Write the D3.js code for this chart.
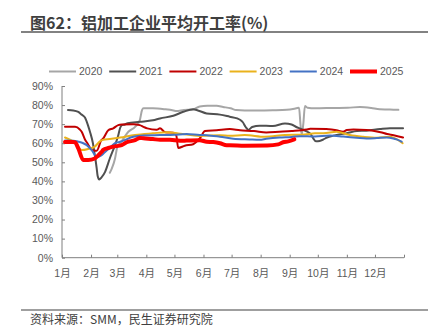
<!DOCTYPE html>
<html><head><meta charset="utf-8">
<script src="https://cdn.jsdelivr.net/npm/d3@7"></script>
<style>
body{margin:0;background:#fff;}
svg{display:block;font-family:"Liberation Sans","Noto Sans CJK SC",sans-serif;}
</style></head>
<body>
<svg id="c" width="437" height="334"></svg>
<script>
const title = "图62：铝加工企业平均开工率(%)";
const source = "资料来源：SMM，民生证券研究院";
const monthLabels = ["1月","2月","3月","4月","5月","6月","7月","8月","9月","10月","11月","12月"];
const monthStarts = [0,31,59,90,120,151,181,212,243,273,304,334,365];
const yTicks = [0,10,20,30,40,50,60,70,80,90];
const seriesNames = ["2020","2021","2022","2023","2024","2025"];
const seriesColors = ["#a6a6a6","#505050","#c00000","#eab21c","#4472c4","#ff0000"];
const seriesWidths = [2,2,2,2,2,4];

// [day of year, %]
const s2020 = [[51,44.5],[53,46.5],[56.6,52],[59,58],[63.7,61],[70.8,66],[78,68.6],[83,72],[85.4,77.4],[87,78.3],[97,78.3],[110,77.8],[119,77.2],[122,76.9],[130,77.4],[140,77.7],[147,79.3],[155,79.6],[165,79.6],[172,79],[180,78.3],[186,77.4],[195,77.2],[210,77.2],[225,77.3],[240,77.5],[250,78.3],[253,78.6],[254.5,70],[255.8,64.5],[257.5,70],[259.3,79.5],[262,78.6],[270,78.3],[290,78.5],[305,78.6],[318,79],[330,78.5],[339,77.8],[350,77.7],[359,77.5]];
const s2021 = [[6.4,77.4],[12,77.2],[17.4,76.4],[21,75],[24.5,73.5],[28,69],[30,65.8],[33,60],[35,53.8],[37,47],[38,43],[39.8,41],[42,42],[46,45],[51,52],[56.6,59],[60,64],[62,68],[64,69.5],[67,69.8],[70,70.5],[83,71.2],[97,72],[104.6,73],[118.8,74.4],[129.5,76.5],[140,77.8],[145,77.2],[154.4,75.6],[168.6,75],[179,73.9],[187,73],[190,72.3],[193,71],[196,68.5],[199,67],[203,68.5],[211,69.2],[225,69],[238,70.3],[245,69.8],[250,68.5],[255,67.5],[261,66.2],[265,65],[268,62.7],[271,61],[275,61.2],[279,62],[282.8,63],[289.5,64],[300,65],[303.8,65.3],[314.8,66.4],[325,66.6],[339.4,67.4],[350,67.8],[364,67.8]];
const s2022 = [[3.2,68.6],[14,68.6],[19,67.2],[21,66],[24.5,62],[27.7,59.5],[30,57.5],[33,56.2],[37,56],[42,61.6],[44,62.5],[49.4,66.8],[54.7,67.8],[60,69.5],[64,69.8],[76,70],[83,69.5],[87,68.6],[91,67.8],[101,67.1],[104.6,67.8],[110,65.8],[118.8,65.5],[122,64],[124,57.5],[131,58.7],[140,59.5],[147,62.5],[152.6,66.4],[165,66.8],[179,67.4],[190,66.8],[205,66.4],[218,65.6],[232,66],[245,66.4],[261,67.2],[265,67.6],[282,67.4],[293,66.8],[300,66],[304,66.9],[311,67.2],[325,67],[332,66.6],[340,65.8],[347,64.8],[354,64.2],[364,63]];
const s2023 = [[3.2,63],[12,61],[14,60.5],[21,56.4],[28,57],[35,58.2],[40.5,61],[44,61.8],[51,62.2],[62,63],[78,64.3],[97,65.2],[112,65.8],[126,65],[147,63.8],[168.6,64.2],[179,63.9],[195,64.3],[216.6,63.4],[238,64.3],[259,64.6],[270,65.2],[279,65.2],[293,66],[307,64.3],[321.5,63.4],[336,62.9],[350,63.4],[359,61.6],[363.6,60]];
const s2024 = [[3.2,61.4],[12,61.3],[17.4,60.8],[22.7,60],[26.4,59],[31.7,56.4],[37,52.9],[42.4,53.8],[44,54.5],[51,57.6],[56.6,60],[62,60.8],[64,61.1],[76,63.4],[87,64.1],[104.6,64.3],[120,64.5],[133,64.8],[147,64.3],[154.4,64.2],[168.6,63.4],[182.8,62.4],[200,62],[211,61.8],[218,62.3],[232,63],[245,63.3],[254,63.7],[270,63.5],[286,64],[300,63.5],[314.5,62.9],[325,62.5],[336,62.7],[346.5,63],[353.6,62.5],[357,62],[362.5,60.8]];
const s2025 = [[3.2,60.6],[12,60.6],[14,60.4],[17.4,57.3],[22.7,51.2],[28,51.2],[35,52],[37,52.9],[42.4,55.5],[44,56.5],[49.4,57.5],[54.7,58.2],[63.7,59],[69,60.5],[78,61.6],[83,62.8],[86.8,62.6],[97,62.2],[104.6,61.8],[115,61.8],[126,61.3],[133,61.4],[147,61.6],[154.4,60.8],[161.5,60.6],[168.6,60],[175.8,59],[179,59],[195,58.7],[219,58.8],[230.8,59.4],[236,60.5],[241.5,61],[248,62]];
const seriesData = [s2020,s2021,s2022,s2023,s2024,s2025];

const svg = d3.select("#c");
const x = d3.scaleLinear().domain([0,365]).range([62,404]);
const y = d3.scaleLinear().domain([0,90]).range([257.7,86]);

// title
svg.append("text").attr("x",30).attr("y",28.5).attr("font-size",16).attr("font-weight","bold")
  .attr("fill","#3f3f3f").attr("font-family","'Noto Sans CJK SC',sans-serif").text(title);
svg.append("line").attr("x1",21).attr("x2",428).attr("y1",32).attr("y2",32).attr("stroke","#595959").attr("stroke-width",1.6);
svg.append("line").attr("x1",21).attr("x2",428).attr("y1",310).attr("y2",310).attr("stroke","#7f7f7f").attr("stroke-width",1.6);
svg.append("text").attr("x",30).attr("y",324).attr("font-size",12).attr("fill","#404040")
  .attr("font-family","'Noto Sans CJK SC',sans-serif").text(source);

// axes
const yAxis = d3.axisLeft(y).tickValues(yTicks).tickSize(-3).tickPadding(9).tickFormat(d=>d+"%");
const gy = svg.append("g").attr("transform","translate(62,0)").call(yAxis);
gy.select(".domain").attr("stroke","#7f7f7f").attr("d","M0,"+y(0)+"V"+y(90));
gy.selectAll(".tick line").attr("stroke","#7f7f7f");
gy.selectAll("text").attr("font-size",10.5).attr("fill","#595959").attr("font-family","'Liberation Sans',sans-serif");

const xAxis = d3.axisBottom(x).tickValues(monthStarts).tickSize(-3).tickPadding(12)
  .tickFormat((d,i)=> i<12 ? monthLabels[i] : "");
const gx = svg.append("g").attr("transform","translate(0,"+y(0)+")").call(xAxis);
gx.select(".domain").attr("stroke","#7f7f7f").attr("d","M"+x(0)+",0H"+x(365));
gx.selectAll(".tick line").attr("stroke","#7f7f7f");
gx.selectAll("text").attr("font-size",10.5).attr("fill","#595959").attr("font-family","'Liberation Sans','Noto Sans CJK SC',sans-serif");

// lines
const line = d3.line().x(d=>x(d[0])).y(d=>y(d[1])).curve(d3.curveMonotoneX);
seriesData.forEach((s,i)=>{
  svg.append("path").datum(s).attr("d",line).attr("fill","none")
    .attr("stroke",seriesColors[i]).attr("stroke-width",seriesWidths[i])
    .attr("stroke-linejoin","round").attr("stroke-linecap","round");
});

// legend
const lg = svg.append("g");
seriesNames.forEach((n,i)=>{
  const lx = 49 + i*60.2;
  lg.append("line").attr("x1",lx).attr("x2",lx+27).attr("y1",71.5).attr("y2",71.5)
    .attr("stroke",seriesColors[i]).attr("stroke-width",seriesWidths[i]);
  lg.append("text").attr("x",lx+30).attr("y",75.3).attr("font-size",10.5).attr("fill","#595959")
    .attr("font-family","'Liberation Sans',sans-serif").text(n);
});
</script>
</body></html>
